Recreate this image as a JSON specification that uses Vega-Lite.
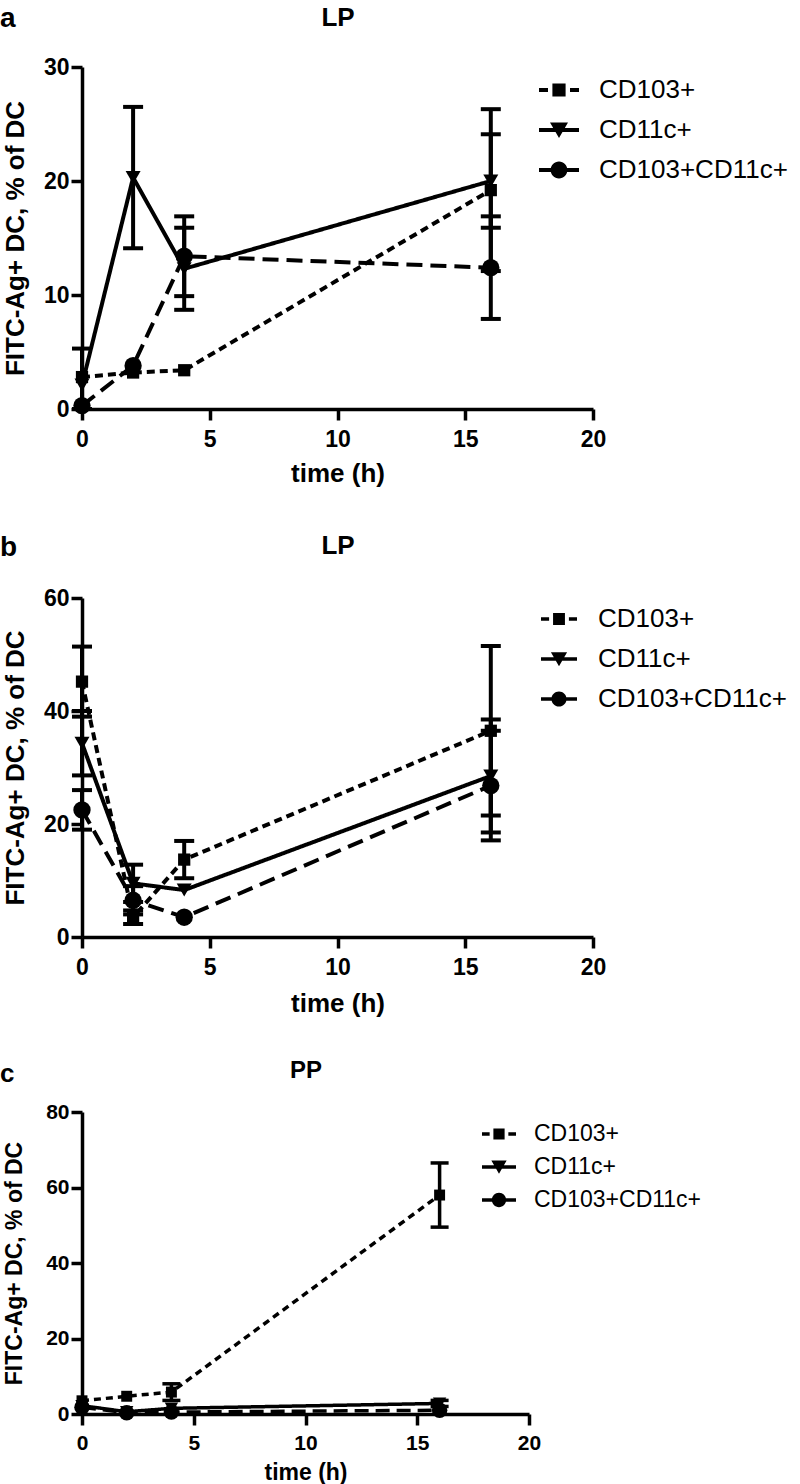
{
  "$schema": "https://vega.github.io/schema/vega-lite/v6.json",
  "background": "white",
  "padding": {"left": 0, "top": 4, "right": 0, "bottom": 0},
  "autosize": {"type": "pad"},
  "bounds": "flush",
  "spacing": 175,
  "resolve": {"scale": {"shape": "independent", "strokeDash": "independent", "size": "independent"}},
  "config": {
    "font": "Liberation Sans",
    "view": {"stroke": null},
    "axis": {
      "grid": false,
      "domainColor": "black",
      "tickColor": "black",
      "labelColor": "black",
      "titleColor": "black",
      "domainWidth": 3.5,
      "tickWidth": 3.5,
      "tickSize": 11,
      "labelFlush": false,
      "labelFont": "Liberation Sans",
      "labelFontWeight": "bold",
      "titleFont": "Liberation Sans",
      "titleFontWeight": "bold"
    },
    "legend": {"padding": 0, "rowPadding": 0, "titlePadding": 0, "labelFont": "Liberation Sans", "labelColor": "black", "labelLimit": 400},
    "title": {"font": "Liberation Sans", "color": "black", "fontWeight": "bold"}
  },
  "datasets": {
    "d": [
      {"panel": "a", "series": "CD103+", "time": 0, "value": 2.8, "errHi": 0, "errLo": 0},
      {"panel": "a", "series": "CD103+", "time": 2, "value": 3.2, "errHi": 0, "errLo": 0},
      {"panel": "a", "series": "CD103+", "time": 4, "value": 3.4, "errHi": 0, "errLo": 0},
      {"panel": "a", "series": "CD103+", "time": 16, "value": 19.2, "errHi": 7.1, "errLo": -7.1},
      {"panel": "a", "series": "CD11c+", "time": 0, "value": 2.1, "errHi": 3.2, "errLo": -2.1},
      {"panel": "a", "series": "CD11c+", "time": 2, "value": 20.3, "errHi": 6.2, "errLo": -6.2},
      {"panel": "a", "series": "CD11c+", "time": 4, "value": 12.3, "errHi": 3.6, "errLo": -3.6},
      {"panel": "a", "series": "CD11c+", "time": 16, "value": 20.0, "errHi": 4.1, "errLo": -4.1},
      {"panel": "a", "series": "CD103+CD11c+", "time": 0, "value": 0.3, "errHi": 0, "errLo": 0},
      {"panel": "a", "series": "CD103+CD11c+", "time": 2, "value": 3.8, "errHi": 0, "errLo": 0},
      {"panel": "a", "series": "CD103+CD11c+", "time": 4, "value": 13.4, "errHi": 3.5, "errLo": -3.5},
      {"panel": "a", "series": "CD103+CD11c+", "time": 16, "value": 12.4, "errHi": 4.5, "errLo": -4.5},

      {"panel": "b", "series": "CD103+", "time": 0, "value": 45.2, "errHi": 6.2, "errLo": -6.2},
      {"panel": "b", "series": "CD103+", "time": 2, "value": 3.5, "errHi": 1.2, "errLo": -1.2},
      {"panel": "b", "series": "CD103+", "time": 4, "value": 13.7, "errHi": 3.3, "errLo": -3.3},
      {"panel": "b", "series": "CD103+", "time": 16, "value": 36.5, "errHi": 15.0, "errLo": -15.0},
      {"panel": "b", "series": "CD11c+", "time": 0, "value": 34.3, "errHi": 5.7, "errLo": -5.7},
      {"panel": "b", "series": "CD11c+", "time": 2, "value": 9.5, "errHi": 3.3, "errLo": -3.3},
      {"panel": "b", "series": "CD11c+", "time": 4, "value": 8.3, "errHi": 0, "errLo": 0},
      {"panel": "b", "series": "CD11c+", "time": 16, "value": 28.5, "errHi": 10.0, "errLo": -10.0},
      {"panel": "b", "series": "CD103+CD11c+", "time": 0, "value": 22.5, "errHi": 3.5, "errLo": -3.5},
      {"panel": "b", "series": "CD103+CD11c+", "time": 2, "value": 6.5, "errHi": 2.5, "errLo": -2.5},
      {"panel": "b", "series": "CD103+CD11c+", "time": 4, "value": 3.5, "errHi": 0, "errLo": 0},
      {"panel": "b", "series": "CD103+CD11c+", "time": 16, "value": 26.8, "errHi": 9.7, "errLo": -9.7},

      {"panel": "c", "series": "CD103+", "time": 0, "value": 3.5, "errHi": 0, "errLo": 0},
      {"panel": "c", "series": "CD103+", "time": 2, "value": 4.7, "errHi": 0, "errLo": 0},
      {"panel": "c", "series": "CD103+", "time": 4, "value": 5.8, "errHi": 2.2, "errLo": -2.2},
      {"panel": "c", "series": "CD103+", "time": 16, "value": 58.0, "errHi": 8.5, "errLo": -8.5},
      {"panel": "c", "series": "CD11c+", "time": 0, "value": 2.2, "errHi": 0, "errLo": 0},
      {"panel": "c", "series": "CD11c+", "time": 2, "value": 0.6, "errHi": 0, "errLo": 0},
      {"panel": "c", "series": "CD11c+", "time": 4, "value": 1.5, "errHi": 0, "errLo": 0},
      {"panel": "c", "series": "CD11c+", "time": 16, "value": 2.8, "errHi": 0.8, "errLo": -0.8},
      {"panel": "c", "series": "CD103+CD11c+", "time": 0, "value": 1.8, "errHi": 0, "errLo": 0},
      {"panel": "c", "series": "CD103+CD11c+", "time": 2, "value": 0.3, "errHi": 0, "errLo": 0},
      {"panel": "c", "series": "CD103+CD11c+", "time": 4, "value": 0.5, "errHi": 0, "errLo": 0},
      {"panel": "c", "series": "CD103+CD11c+", "time": 16, "value": 1.0, "errHi": 0, "errLo": 0}
    ]
  },
  "vconcat": [
    {
      "width": 511,
      "height": 342,
      "title": {"text": "a", "anchor": "start", "frame": "group", "align": "left", "dx": -82, "dy": 51, "baseline": "alphabetic", "offset": 0, "fontSize": 28},
      "data": {"name": "d"},
      "transform": [{"filter": "datum.panel == 'a'"}],
      "resolve": {"axis": {"x": "independent"}, "scale": {"shape": "independent"}},
      "layer": [
        {
          "mark": {"type": "line", "strokeWidth": 4, "color": "black", "strokeCap": "butt"},
          "encoding": {
            "x": {"field": "time", "type": "quantitative", "scale": {"domain": [0, 20]},
              "axis": {"values": [0, 5, 10, 15, 20], "labelFontSize": 23, "labelPadding": 8, "title": "time (h)", "titleFontSize": 26, "titleBaseline": "alphabetic", "titleY": 72}},
            "y": {"field": "value", "type": "quantitative", "scale": {"domain": [0, 30]},
              "axis": {"values": [0, 10, 20, 30], "labelFontSize": 23, "labelPadding": 2, "title": "FITC-Ag+ DC, % of DC", "titleFontSize": 26, "titleBaseline": "middle", "titleX": -67}},
            "strokeDash": {"field": "series", "type": "nominal",
              "scale": {"domain": ["CD103+", "CD11c+", "CD103+CD11c+"], "range": [[8, 5], [1, 0], [16, 8]]},
              "legend": null}
          }
        },
        {
          "transform": [{"filter": "datum.errHi > 0"}],
          "mark": {"type": "errorbar", "color": "black", "opacity": 1, "thickness": 4, "ticks": {"size": 20, "thickness": 4, "color": "black", "opacity": 1}, "rule": {"opacity": 1}},
          "encoding": {
            "x": {"field": "time", "type": "quantitative", "axis": null},
            "y": {"field": "value", "type": "quantitative",
              "axis": {"values": [0, 10, 20, 30], "labelFontSize": 23, "labelPadding": 2, "title": "FITC-Ag+ DC, % of DC", "titleFontSize": 26, "titleBaseline": "middle", "titleX": -67}},
            "yError": {"field": "errHi"},
            "yError2": {"field": "errLo"}
          }
        },
        {
          "mark": {"type": "point", "filled": true, "color": "black", "opacity": 1},
          "encoding": {
            "x": {"field": "time", "type": "quantitative",
              "axis": {"orient": "top", "domain": false, "ticks": false, "labels": false, "title": "LP", "titleFontSize": 26, "titleBaseline": "alphabetic", "titleY": -42}},
            "y": {"field": "value", "type": "quantitative",
              "axis": {"values": [0, 10, 20, 30], "labelFontSize": 23, "labelPadding": 2, "title": "FITC-Ag+ DC, % of DC", "titleFontSize": 26, "titleBaseline": "middle", "titleX": -67}},
            "shape": {"field": "series", "type": "nominal",
              "scale": {"domain": ["CD103+", "CD11c+", "CD103+CD11c+"], "range": ["square", "triangle-down", "circle"]},
              "legend": null},
            "size": {"field": "series", "type": "nominal", "scale": {"domain": ["CD103+", "CD11c+", "CD103+CD11c+"], "range": [150, 300, 290]}, "legend": null}
          }
        },
        {
          "transform": [{"filter": "datum.time < 0"}],
          "mark": {"type": "point", "filled": true, "color": "black", "opacity": 1},
          "encoding": {
            "x": {"field": "time", "type": "quantitative", "axis": null},
            "y": {"field": "value", "type": "quantitative",
              "axis": {"values": [0, 10, 20, 30], "labelFontSize": 23, "labelPadding": 2, "title": "FITC-Ag+ DC, % of DC", "titleFontSize": 26, "titleBaseline": "middle", "titleX": -67}},
            "shape": {"field": "series", "type": "nominal",
              "scale": {"domain": ["CD103+", "CD11c+", "CD103+CD11c+"],
                "range": [
                  "M-1,-0.1H-0.55V0.1H-1Z M-0.33,-0.33H0.33V0.33H-0.33Z M0.55,-0.1H1V0.1H0.55Z",
                  "M-1,-0.1H1V0.1H-1Z M-0.45,-0.38H0.45L0,0.4Z",
                  "M-1,-0.1H-0.25V0.1H-1Z M0.25,-0.1H1V0.1H0.25Z M-0.42,0A0.42,0.42 0 1 1 0.42,0A0.42,0.42 0 1 1 -0.42,0Z"
                ]},
              "legend": {"orient": "none", "legendX": 457, "legendY": 3, "title": null, "symbolSize": 1600, "symbolFillColor": "black", "symbolStrokeWidth": 0, "symbolOpacity": 1, "clipHeight": 40, "labelOffset": 20, "labelFontSize": 26}}
          }
        }
      ]
    },
    {
      "width": 511,
      "height": 353,
      "title": {"text": "b", "anchor": "start", "frame": "group", "align": "left", "dx": -82, "dy": 51, "baseline": "alphabetic", "offset": 0, "fontSize": 28},
      "data": {"name": "d"},
      "transform": [{"filter": "datum.panel == 'b'"}],
      "resolve": {"axis": {"x": "independent"}, "scale": {"shape": "independent"}},
      "layer": [
        {
          "mark": {"type": "line", "strokeWidth": 4, "color": "black", "strokeCap": "butt"},
          "encoding": {
            "x": {"field": "time", "type": "quantitative", "scale": {"domain": [0, 20]},
              "axis": {"values": [0, 5, 10, 15, 20], "labelFontSize": 23, "labelPadding": 8, "title": "time (h)", "titleFontSize": 26, "titleBaseline": "alphabetic", "titleY": 74}},
            "y": {"field": "value", "type": "quantitative", "scale": {"domain": [0, 60], "range": [353, 14]},
              "axis": {"values": [0, 20, 40, 60], "labelFontSize": 23, "labelPadding": 2, "title": "FITC-Ag+ DC, % of DC", "titleFontSize": 26, "titleBaseline": "middle", "titleX": -67}},
            "strokeDash": {"field": "series", "type": "nominal",
              "scale": {"domain": ["CD103+", "CD11c+", "CD103+CD11c+"], "range": [[8, 5], [1, 0], [16, 8]]},
              "legend": null}
          }
        },
        {
          "transform": [{"filter": "datum.errHi > 0"}],
          "mark": {"type": "errorbar", "color": "black", "opacity": 1, "thickness": 4, "ticks": {"size": 20, "thickness": 4, "color": "black", "opacity": 1}, "rule": {"opacity": 1}},
          "encoding": {
            "x": {"field": "time", "type": "quantitative", "axis": null},
            "y": {"field": "value", "type": "quantitative",
              "axis": {"values": [0, 20, 40, 60], "labelFontSize": 23, "labelPadding": 2, "title": "FITC-Ag+ DC, % of DC", "titleFontSize": 26, "titleBaseline": "middle", "titleX": -67}},
            "yError": {"field": "errHi"},
            "yError2": {"field": "errLo"}
          }
        },
        {
          "mark": {"type": "point", "filled": true, "color": "black", "opacity": 1},
          "encoding": {
            "x": {"field": "time", "type": "quantitative",
              "axis": {"orient": "top", "domain": false, "ticks": false, "labels": false, "title": "LP", "titleFontSize": 26, "titleBaseline": "alphabetic", "titleY": -30.5}},
            "y": {"field": "value", "type": "quantitative",
              "axis": {"values": [0, 20, 40, 60], "labelFontSize": 23, "labelPadding": 2, "title": "FITC-Ag+ DC, % of DC", "titleFontSize": 26, "titleBaseline": "middle", "titleX": -67}},
            "shape": {"field": "series", "type": "nominal",
              "scale": {"domain": ["CD103+", "CD11c+", "CD103+CD11c+"], "range": ["square", "triangle-down", "circle"]},
              "legend": null},
            "size": {"field": "series", "type": "nominal", "scale": {"domain": ["CD103+", "CD11c+", "CD103+CD11c+"], "range": [150, 300, 290]}, "legend": null}
          }
        },
        {
          "transform": [{"filter": "datum.time < 0"}],
          "mark": {"type": "point", "filled": true, "color": "black", "opacity": 1},
          "encoding": {
            "x": {"field": "time", "type": "quantitative", "axis": null},
            "y": {"field": "value", "type": "quantitative",
              "axis": {"values": [0, 20, 40, 60], "labelFontSize": 23, "labelPadding": 2, "title": "FITC-Ag+ DC, % of DC", "titleFontSize": 26, "titleBaseline": "middle", "titleX": -67}},
            "shape": {"field": "series", "type": "nominal",
              "scale": {"domain": ["CD103+", "CD11c+", "CD103+CD11c+"],
                "range": [
                  "M-1,-0.1H-0.55V0.1H-1Z M-0.33,-0.33H0.33V0.33H-0.33Z M0.55,-0.1H1V0.1H0.55Z",
                  "M-1,-0.1H1V0.1H-1Z M-0.45,-0.38H0.45L0,0.4Z",
                  "M-1,-0.1H-0.25V0.1H-1Z M0.25,-0.1H1V0.1H0.25Z M-0.42,0A0.42,0.42 0 1 1 0.42,0A0.42,0.42 0 1 1 -0.42,0Z"
                ]},
              "legend": {"orient": "none", "legendX": 459, "legendY": 15.25, "title": null, "symbolSize": 1296, "symbolFillColor": "black", "symbolStrokeWidth": 0, "symbolOpacity": 1, "clipHeight": 39.5, "labelOffset": 21, "labelFontSize": 26}}
          }
        }
      ]
    },
    {
      "width": 447,
      "height": 302,
      "title": {"text": "c", "anchor": "start", "frame": "group", "align": "left", "dx": -82, "dy": 49, "baseline": "alphabetic", "offset": 0, "fontSize": 26},
      "data": {"name": "d"},
      "transform": [{"filter": "datum.panel == 'c'"}],
      "resolve": {"axis": {"x": "independent"}, "scale": {"shape": "independent"}},
      "layer": [
        {
          "mark": {"type": "line", "strokeWidth": 3.5, "color": "black", "strokeCap": "butt"},
          "encoding": {
            "x": {"field": "time", "type": "quantitative", "scale": {"domain": [0, 20]},
              "axis": {"values": [0, 5, 10, 15, 20], "labelFontSize": 21, "labelPadding": 7, "title": "time (h)", "titleFontSize": 23, "titleBaseline": "alphabetic", "titleY": 65}},
            "y": {"field": "value", "type": "quantitative", "scale": {"domain": [0, 80]},
              "axis": {"values": [0, 20, 40, 60, 80], "labelFontSize": 21, "labelPadding": 2, "title": "FITC-Ag+ DC, % of DC", "titleFontSize": 23, "titleBaseline": "middle", "titleX": -68}},
            "strokeDash": {"field": "series", "type": "nominal",
              "scale": {"domain": ["CD103+", "CD11c+", "CD103+CD11c+"], "range": [[7, 5], [1, 0], [14, 7]]},
              "legend": null}
          }
        },
        {
          "transform": [{"filter": "datum.errHi > 0"}],
          "mark": {"type": "errorbar", "color": "black", "opacity": 1, "thickness": 3.5, "ticks": {"size": 18, "thickness": 3.5, "color": "black", "opacity": 1}, "rule": {"opacity": 1}},
          "encoding": {
            "x": {"field": "time", "type": "quantitative", "axis": null},
            "y": {"field": "value", "type": "quantitative",
              "axis": {"values": [0, 20, 40, 60, 80], "labelFontSize": 21, "labelPadding": 2, "title": "FITC-Ag+ DC, % of DC", "titleFontSize": 23, "titleBaseline": "middle", "titleX": -68}},
            "yError": {"field": "errHi"},
            "yError2": {"field": "errLo"}
          }
        },
        {
          "mark": {"type": "point", "filled": true, "color": "black", "opacity": 1},
          "encoding": {
            "x": {"field": "time", "type": "quantitative",
              "axis": {"orient": "top", "domain": false, "ticks": false, "labels": false, "title": "PP", "titleFontSize": 24, "titleBaseline": "alphabetic", "titleY": -34.5}},
            "y": {"field": "value", "type": "quantitative",
              "axis": {"values": [0, 20, 40, 60, 80], "labelFontSize": 21, "labelPadding": 2, "title": "FITC-Ag+ DC, % of DC", "titleFontSize": 23, "titleBaseline": "middle", "titleX": -68}},
            "shape": {"field": "series", "type": "nominal",
              "scale": {"domain": ["CD103+", "CD11c+", "CD103+CD11c+"], "range": ["square", "triangle-down", "circle"]},
              "legend": null},
            "size": {"field": "series", "type": "nominal", "scale": {"domain": ["CD103+", "CD11c+", "CD103+CD11c+"], "range": [120, 240, 230]}, "legend": null}
          }
        },
        {
          "transform": [{"filter": "datum.time < 0"}],
          "mark": {"type": "point", "filled": true, "color": "black", "opacity": 1},
          "encoding": {
            "x": {"field": "time", "type": "quantitative", "axis": null},
            "y": {"field": "value", "type": "quantitative",
              "axis": {"values": [0, 20, 40, 60, 80], "labelFontSize": 21, "labelPadding": 2, "title": "FITC-Ag+ DC, % of DC", "titleFontSize": 23, "titleBaseline": "middle", "titleX": -68}},
            "shape": {"field": "series", "type": "nominal",
              "scale": {"domain": ["CD103+", "CD11c+", "CD103+CD11c+"],
                "range": [
                  "M-1,-0.1H-0.55V0.1H-1Z M-0.33,-0.33H0.33V0.33H-0.33Z M0.55,-0.1H1V0.1H0.55Z",
                  "M-1,-0.1H1V0.1H-1Z M-0.45,-0.38H0.45L0,0.4Z",
                  "M-1,-0.1H-0.25V0.1H-1Z M0.25,-0.1H1V0.1H0.25Z M-0.42,0A0.42,0.42 0 1 1 0.42,0A0.42,0.42 0 1 1 -0.42,0Z"
                ]},
              "legend": {"orient": "none", "legendX": 400, "legendY": 5.5, "title": null, "symbolSize": 1156, "symbolFillColor": "black", "symbolStrokeWidth": 0, "symbolOpacity": 1, "clipHeight": 33, "labelOffset": 18, "labelFontSize": 23}}
          }
        }
      ]
    }
  ]
}
